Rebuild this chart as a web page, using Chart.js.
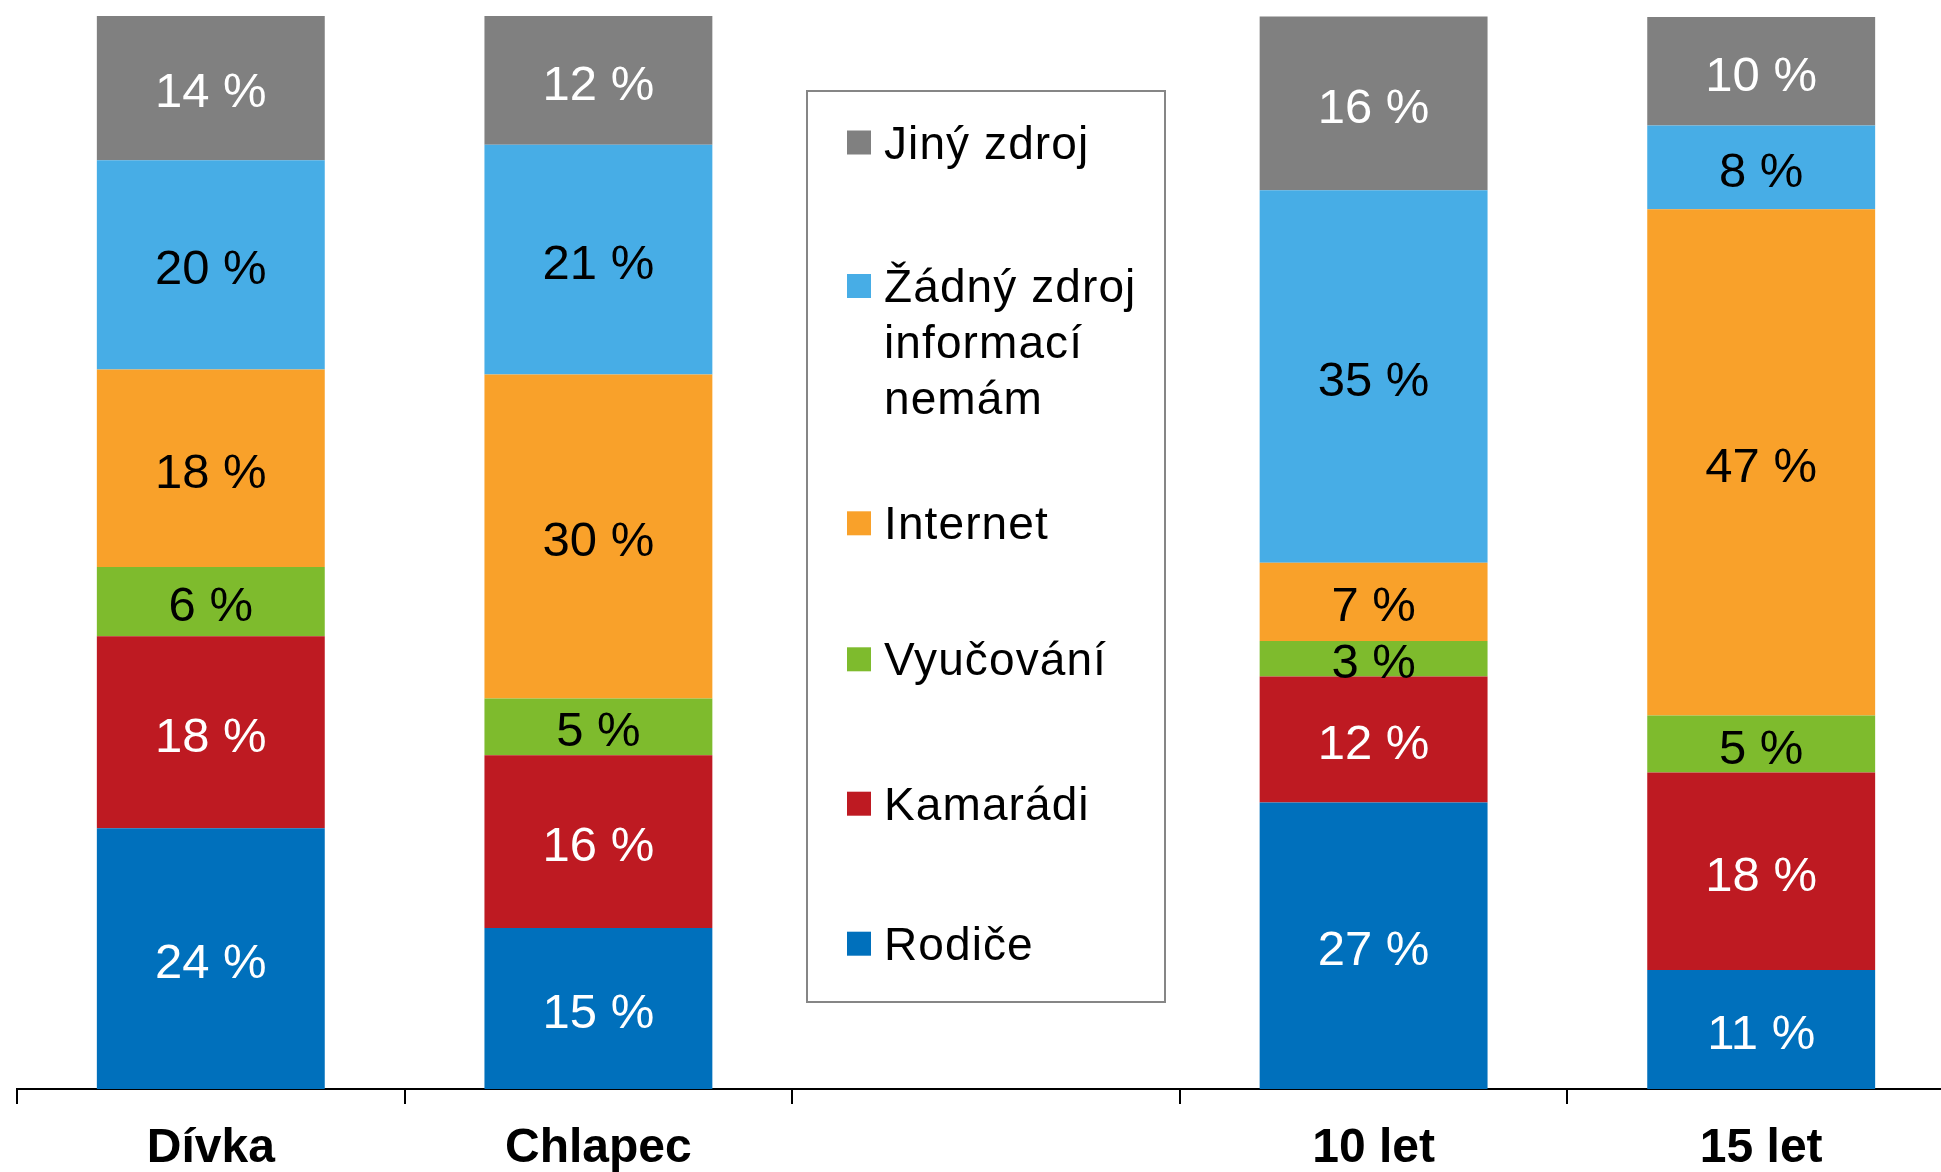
<!DOCTYPE html>
<html>
<head>
<meta charset="utf-8">
<script src="https://cdn.jsdelivr.net/npm/chart.js@4/dist/chart.umd.min.js"></script>
<style>
html,body{margin:0;padding:0;overflow:hidden;background:#fff;width:1941px;height:1172px}
#wrap{position:absolute;left:0;top:0;width:1960px;height:1172px}
</style>
</head>
<body>
<div id="wrap"><canvas id="c"></canvas></div>
<script>
// ---- data (percent shares) ----
const categories = ['Dívka', 'Chlapec', '', '10 let', '15 let'];
const seriesNames = ['Rodiče', 'Kamarádi', 'Vyučování', 'Internet', 'Žádný zdroj informací nemám', 'Jiný zdroj'];
const rodice     = [24.3, 15.0, null, 26.7, 11.1];
const kamaradi   = [17.9, 16.1, null, 11.75, 18.4];
const vyucovani  = [6.45, 5.3, null, 3.3, 5.3];
const internet   = [18.4, 30.2, null, 7.3, 47.2];
const zadnyZdroj = [19.5, 21.4, null, 34.7, 7.8];
const jinyZdroj  = [13.5, 12.0, null, 16.2, 10.1];

const seriesValues = [rodice, kamaradi, vyucovani, internet, zadnyZdroj, jinyZdroj];
const seriesColors = ['#0070BC', '#BE1A22', '#7EBB2D', '#F9A12A', '#47ADE6', '#808080'];
const labelColors  = ['#ffffff', '#ffffff', '#000000', '#000000', '#000000', '#ffffff'];

const FONT = '"Liberation Sans", Arial, Helvetica, sans-serif';

const segLabels = {
  id: 'segLabels',
  afterDatasetsDraw(chart) {
    const ctx = chart.ctx;
    ctx.save();
    ctx.font = '49px ' + FONT;
    ctx.textAlign = 'center';
    ctx.textBaseline = 'middle';
    chart.data.datasets.forEach((ds, i) => {
      const meta = chart.getDatasetMeta(i);
      meta.data.forEach((bar, j) => {
        const v = ds.data[j];
        if (v == null) return;
        const p = bar.getProps(['x', 'y', 'base'], true);
        ctx.fillStyle = labelColors[i];
        ctx.fillText(Math.round(v) + ' %', p.x, (p.y + p.base) / 2 + 6);
      });
    });
    ctx.restore();
  }
};

const boxLegend = {
  id: 'boxLegend',
  afterDraw(chart) {
    const ctx = chart.ctx;
    const xs = chart.scales.x;
    const top = chart.chartArea.top;
    const cx = xs.getPixelForValue(2);
    const boxL = cx - 179, boxR = cx + 179;
    const boxT = top + 75, boxB = top + 986;
    ctx.save();
    ctx.strokeStyle = '#868686';
    ctx.lineWidth = 2;
    ctx.strokeRect(boxL, boxT, boxR - boxL, boxB - boxT);
    ctx.font = '46px ' + FONT;
    try { ctx.letterSpacing = '1.1px'; } catch (e) {}
    ctx.textAlign = 'left';
    ctx.textBaseline = 'alphabetic';
    ctx.fillStyle = '#000';
    const itemY = [126.5, 270, 507.3, 643.3, 787.7, 927.7];
    const maxW = 265;
    const order = [5, 4, 3, 2, 1, 0];
    order.forEach((di, k) => {
      const y0 = top + itemY[k];
      ctx.fillStyle = seriesColors[di];
      ctx.fillRect(boxL + 40, y0 - 12, 24, 24);
      ctx.fillStyle = '#000';
      const words = seriesNames[di].split(' ');
      const lines = [];
      let cur = '';
      words.forEach(w => {
        const test = cur ? cur + ' ' + w : w;
        if (ctx.measureText(test).width > maxW && cur) { lines.push(cur); cur = w; }
        else cur = test;
      });
      if (cur) lines.push(cur);
      lines.forEach((ln, li) => {
        ctx.fillText(ln, boxL + 77, y0 + 16 + li * 56);
      });
    });
    ctx.restore();
  }
};

new Chart(document.getElementById('c'), {
  type: 'bar',
  data: {
    labels: categories,
    datasets: seriesValues.map((vals, i) => ({
      label: seriesNames[i],
      data: vals,
      backgroundColor: seriesColors[i],
      borderWidth: 0,
      barPercentage: 0.588,
      categoryPercentage: 1.0
    }))
  },
  options: {
    responsive: true,
    maintainAspectRatio: false,
    animation: false,
    devicePixelRatio: 1,
    layout: { padding: { left: 17, right: 5, top: 16, bottom: 0 } },
    plugins: {
      legend: { display: false },
      tooltip: { enabled: false },
      title: { display: false }
    },
    scales: {
      x: {
        stacked: true,
        grid: {
          offset: true,
          drawOnChartArea: false,
          drawTicks: true,
          tickLength: 15,
          color: '#000',
          lineWidth: 2
        },
        border: { display: true, color: '#000', width: 2 },
        ticks: {
          color: '#000',
          font: { family: FONT, size: 48, weight: 'bold' },
          padding: 16,
          maxRotation: 0,
          autoSkip: false
        },
        afterFit(scale) { scale.height = 83; }
      },
      y: {
        stacked: true,
        display: false,
        min: 0,
        max: 100
      }
    }
  },
  plugins: [segLabels, boxLegend]
});
</script>
</body>
</html>
